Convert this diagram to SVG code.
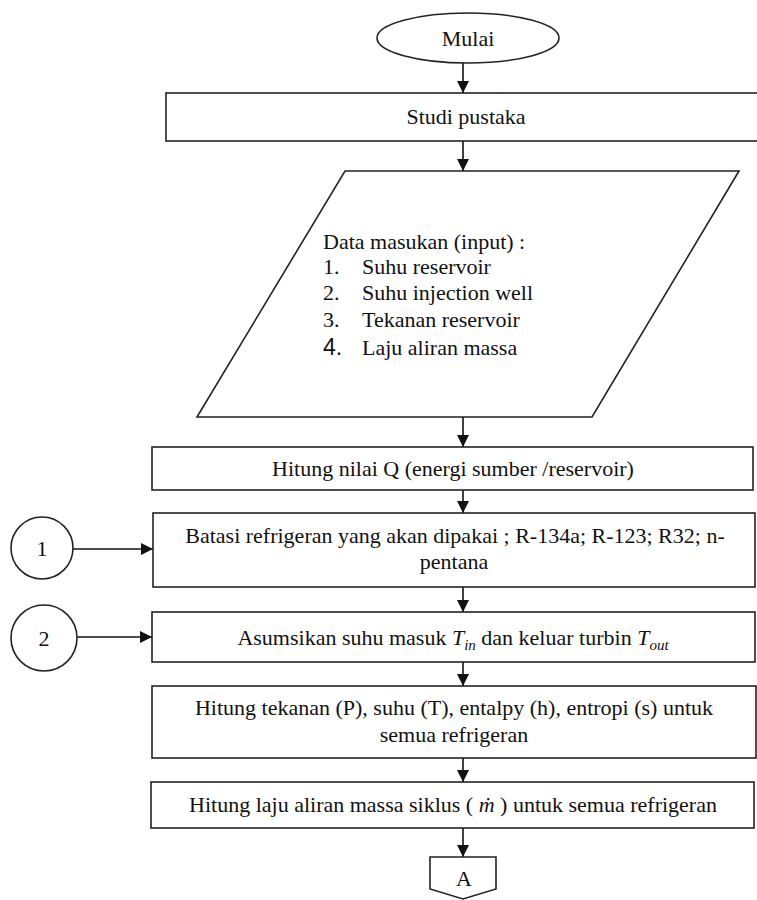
<svg xmlns="http://www.w3.org/2000/svg" width="757" height="900" viewBox="0 0 757 900">
<defs>
<marker id="arr" viewBox="0 0 12 12" refX="12" refY="6" markerWidth="12" markerHeight="12" markerUnits="userSpaceOnUse" orient="auto">
<path d="M0,0 L12,6 L0,12 Z" fill="#111"/>
</marker>
</defs>
<style>
.s{fill:#fff;stroke:#222;stroke-width:1.6}
.t{font-family:"Liberation Serif","Times New Roman",serif;font-size:22px;fill:#111}
.c{text-anchor:middle}
.i{font-style:italic}
.sub{font-size:15px;font-style:italic}
.ln{stroke:#111;stroke-width:1.6;fill:none;marker-end:url(#arr)}
</style>
<rect width="757" height="900" fill="#fff"/>
<g id="connectors">
<line class="ln" x1="463" y1="63" x2="463" y2="93"/>
<line class="ln" x1="463" y1="141" x2="463" y2="171"/>
<line class="ln" x1="463" y1="417" x2="463" y2="447"/>
<line class="ln" x1="463" y1="490" x2="463" y2="513"/>
<line class="ln" x1="463" y1="587" x2="463" y2="612"/>
<line class="ln" x1="463" y1="662" x2="463" y2="686"/>
<line class="ln" x1="463" y1="758" x2="463" y2="782"/>
<line class="ln" x1="463" y1="828" x2="463" y2="857"/>
<line class="ln" x1="73" y1="549" x2="153" y2="549"/>
<line class="ln" x1="77" y1="637" x2="152" y2="637"/>
</g>
<g id="mulai">
<ellipse class="s" cx="468" cy="38" rx="91" ry="25"/>
<text class="t c" x="468" y="46">Mulai</text>
</g>
<g id="studi">
<rect class="s" x="166" y="93" width="600" height="48"/>
<text class="t c" x="466" y="124">Studi pustaka</text>
</g>
<g id="input">
<polygon class="s" points="345,171 739,171 592,417 197,417"/>
<text class="t" x="323" y="249">Data masukan (input) :</text>
<text class="t" x="323" y="274">1.</text><text class="t" x="362" y="274">Suhu reservoir</text>
<text class="t" x="323" y="300">2.</text><text class="t" x="362" y="300">Suhu injection well</text>
<text class="t" x="323" y="327">3.</text><text class="t" x="362" y="327">Tekanan reservoir</text>
<text class="t" x="323" y="355" style="font-family:'Liberation Sans',Arial,sans-serif;font-size:23px">4.</text><text class="t" x="362" y="355">Laju aliran massa</text>
</g>
<g id="hitungQ">
<rect class="s" x="152" y="447" width="601" height="43"/>
<text class="t c" x="453" y="476">Hitung nilai Q (energi sumber /reservoir)</text>
</g>
<g id="batasi">
<rect class="s" x="153" y="513" width="602" height="74"/>
<text class="t c" x="455" y="543">Batasi refrigeran yang akan dipakai ; R-134a; R-123; R32; n-</text>
<text class="t c" x="454" y="569">pentana</text>
</g>
<g id="c1">
<circle class="s" cx="42" cy="548" r="31"/>
<text class="t c" x="42" y="556">1</text>
</g>
<g id="asumsi">
<rect class="s" x="152" y="612" width="603" height="50"/>
<text class="t c" x="453" y="645">Asumsikan suhu masuk <tspan class="i">T</tspan><tspan class="sub" dy="5">in</tspan><tspan dy="-5"> dan keluar turbin  </tspan><tspan class="i">T</tspan><tspan class="sub" dy="5">out</tspan></text>
</g>
<g id="c2">
<circle class="s" cx="44" cy="638" r="33"/>
<text class="t c" x="44" y="646">2</text>
</g>
<g id="hitungP">
<rect class="s" x="152" y="686" width="604" height="72"/>
<text class="t c" x="454" y="715">Hitung tekanan (P), suhu (T), entalpy (h), entropi (s) untuk</text>
<text class="t c" x="454" y="742">semua refrigeran</text>
</g>
<g id="hitungM">
<rect class="s" x="151" y="782" width="603" height="46"/>
<text class="t c" x="453" y="812">Hitung laju aliran massa siklus ( <tspan class="i">ṁ</tspan> ) untuk semua refrigeran</text>
</g>
<g id="connA">
<polygon class="s" points="430,857 496,857 496,889 463,899 430,889"/>
<text class="t c" x="464" y="886">A</text>
</g>
</svg>
